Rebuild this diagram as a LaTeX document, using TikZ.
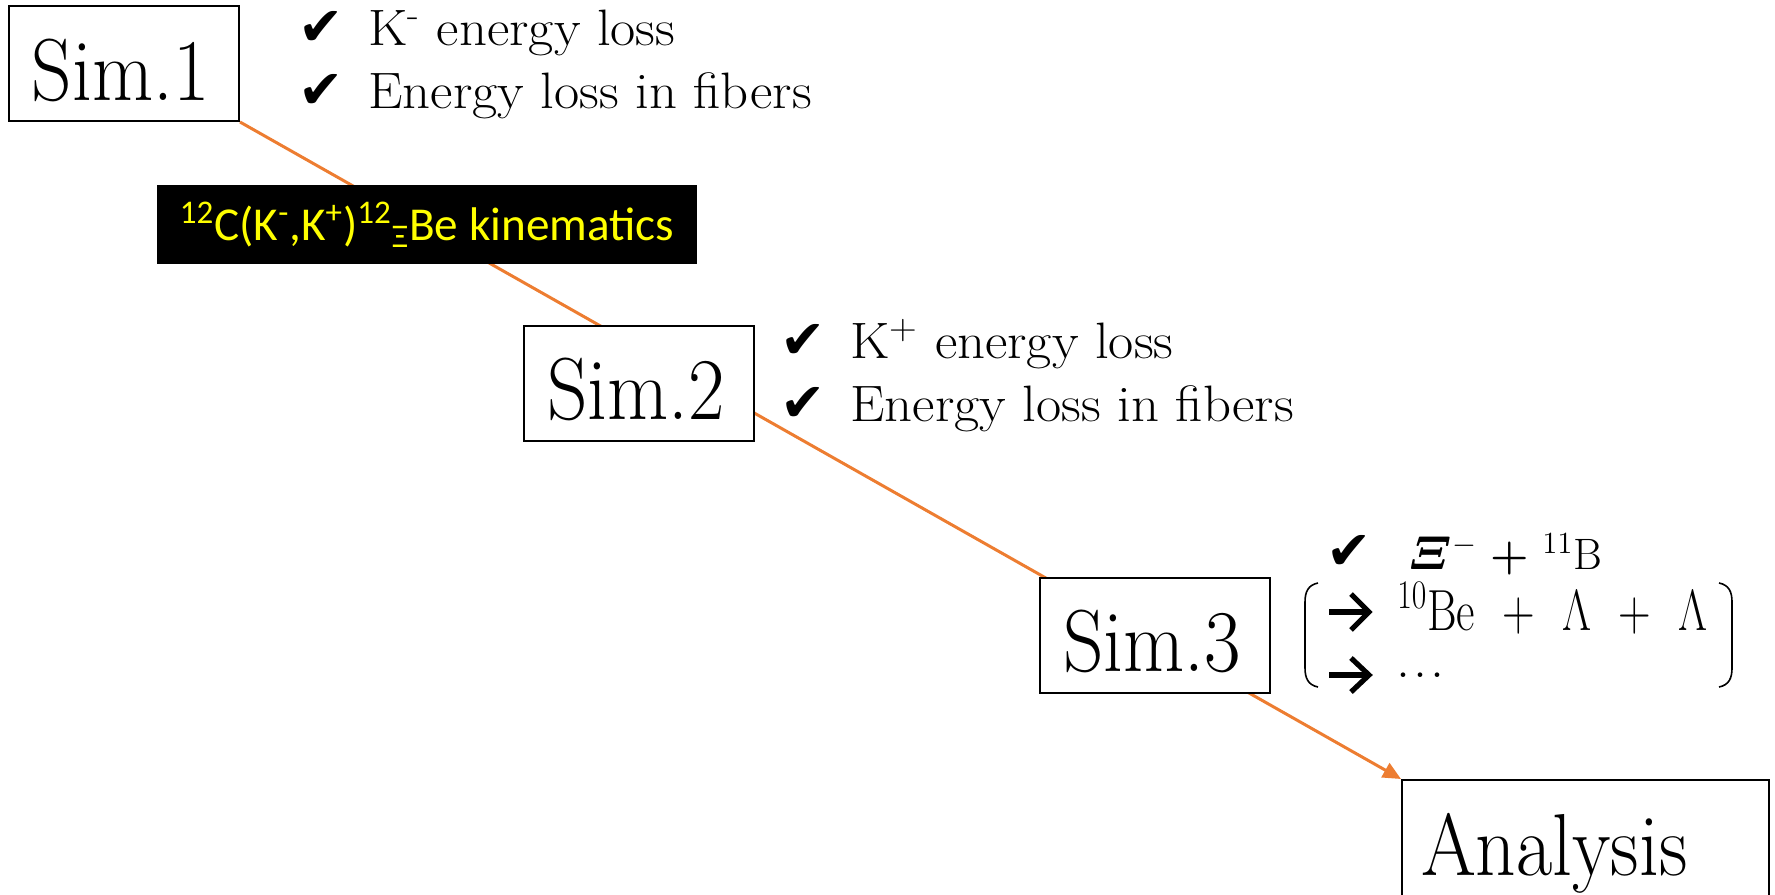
\RequirePackage{fix-cm}
\documentclass[tikz,border=0pt]{standalone}
\usepackage{amsmath,amssymb}
\usepackage{fontspec}
\newfontfamily\carlito{Carlito}
\newfontfamily\dejavu{DejaVu Sans}
\usetikzlibrary{arrows.meta,backgrounds}
\definecolor{lineorange}{HTML}{ED7D31}
\definecolor{labelyellow}{HTML}{FFFF00}
\newcommand\simtext[1]{\scalebox{0.9}[1]{#1}}
\newcommand\wide[1]{\scalebox{1.07}[1]{#1}}
\newcommand\chk[1]{\makebox[#1][l]{\dejavu\fontsize{27}{27}\selectfont ✔}}
\begin{document}
\begin{tikzpicture}[x=0.5pt,y=-0.5pt,
  simbox/.style={draw, line width=1pt, fill=white, inner xsep=11.5pt, inner ysep=0pt,
    text width=92pt, align=left, minimum height=57.5pt,
    font=\fontsize{44}{44}\selectfont, text height=36.5pt, text depth=0pt},
  listline/.style={anchor=base west, inner sep=0pt, font=\fontsize{25.6}{25.6}\selectfont},
  kinbox/.style={fill=black, minimum width=270pt, minimum height=39.5pt, inner sep=0pt,
    text=labelyellow, font=\carlito\fontsize{23.6}{23.6}\selectfont},
  arrowstroke/.style={line width=2.6pt, line cap=butt, line join=miter},
  flow/.style={lineorange, line width=1.5pt, -{Triangle[length=9pt,width=8pt]}},
  paren/.style={line width=0.8pt}]
\useasboundingbox (0,0) rectangle (1775,894);

\node[simbox] (sim1) at (124,63.5) {\simtext{Sim.1}};
\node[simbox] (sim2) at (639,383) {\simtext{Sim.2}};
\node[simbox] (sim3) at (1155,635) {\simtext{Sim.3}};
\node[simbox, anchor=north west, inner xsep=9.5pt, text width=164.5pt,
  minimum height=65.5pt, text height=30pt] (ana) at (1401,779) {\simtext{Analysis}};

\node[kinbox] (kin) at (427,224.5)
  {\textsuperscript{12}C(K\textsuperscript{-},K\textsuperscript{+})\textsuperscript{12}\textsubscript{Ξ}Be kinematics};

\begin{scope}[on background layer]
  \draw[flow] (sim1.south east) -- (ana.north west);
\end{scope}

\node[listline] (l1a) at (298,45) {\chk{35pt}\wide{K\textsuperscript{-} energy loss}};
\node[listline] (l1b) at (298,108) {\chk{35pt}\wide{Energy loss in fibers}};
\node[listline] (l2a) at (780,358) {\chk{35pt}\wide{K\textsuperscript{+} energy loss}};
\node[listline] (l2b) at (780,421) {\chk{35pt}\wide{Energy loss in fibers}};

\node[anchor=base west, inner sep=0pt, font=\fontsize{22}{22}\selectfont] (l3a) at (1326,569)
  {\chk{41pt}{\fontsize{24}{24}\selectfont$\boldsymbol{\varXi}$}$^{-}$ \textbf{+} $^{11}$B};

% heavy arrows in front of the decay lines
\draw[arrowstroke] (1329,612) -- (1366,612);
\draw[arrowstroke] (1351,594) -- (1369,612) -- (1351,630);
\draw[arrowstroke] (1329,675) -- (1366,675);
\draw[arrowstroke] (1351,658) -- (1369,675) -- (1351,692);

\node[anchor=base west, inner sep=0pt, font=\fontsize{29}{29}\selectfont] (l3b) at (1397,630)
  {\scalebox{0.78}[1]{$^{10}$Be\ \ + \ $\Lambda$ \ + \ $\Lambda$}};
\node[anchor=base west, inner sep=0pt, font=\fontsize{28}{28}\selectfont] (l3c) at (1396,677)
  {.\hspace{1.5pt}.\hspace{1.5pt}.};

\draw[paren] (1318,583) .. controls (1308,585) and (1305,592) .. (1305,602)
  -- (1305,668) .. controls (1305,678) and (1308,685) .. (1318,687);
\draw[paren] (1719,583) .. controls (1729,585) and (1732,592) .. (1732,602)
  -- (1732,668) .. controls (1732,678) and (1729,685) .. (1719,687);
\end{tikzpicture}
\end{document}
